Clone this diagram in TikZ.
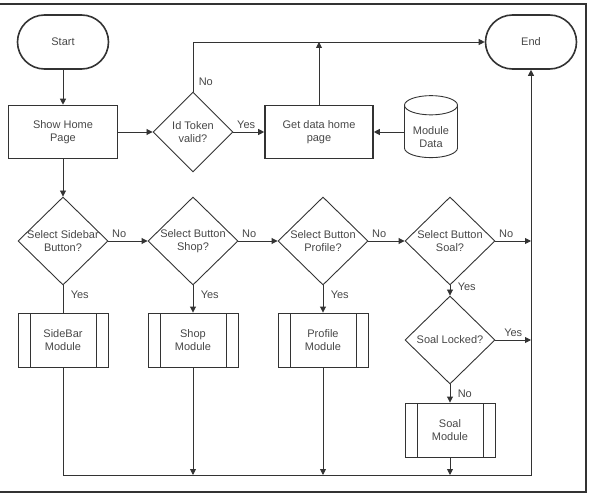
\documentclass[tikz,border=0pt]{standalone}
\usepackage{fontspec}
\setmainfont{Liberation Sans}
\usetikzlibrary{shapes.geometric,arrows.meta}
\definecolor{linegray}{HTML}{333333}
\definecolor{textgray}{HTML}{474747}
\begin{document}
\begin{tikzpicture}[x=1pt,y=-1pt,color=linegray,line width=0.9pt,
    >={Triangle[length=6pt,width=6pt]},
    every node/.style={font=\fontsize{11}{13}\selectfont,text=textgray,align=center},
    terminal/.style={draw,rounded corners=27pt,minimum width=91pt,minimum height=54pt,line width=1.6pt},
    process/.style={draw,minimum width=109pt,minimum height=53pt,line width=1.6pt},
    decision/.style={draw,diamond,minimum width=90pt,minimum height=88pt,inner sep=-3pt},
    module/.style={draw,minimum width=90pt,minimum height=54pt,
      path picture={\draw ([xshift=12pt]path picture bounding box.north west) -- ([xshift=12pt]path picture bounding box.south west)
        ([xshift=-12pt]path picture bounding box.north east) -- ([xshift=-12pt]path picture bounding box.south east);}},
    store/.style={draw,cylinder,shape border rotate=90,aspect=0.45,minimum width=53pt,minimum height=62pt,text height=28pt}]
  \useasboundingbox (0,0) rectangle (590,495);
  % frame
  \draw[line width=2pt] (-5,4) rectangle (586,492);
  % nodes
  \node[terminal] (start) at (63,42) {Start};
  \node[terminal] (end) at (531,42) {End};
  \node[process] (home) at (63,132) {Show Home\\Page};
  \node[decision,minimum width=80pt,minimum height=80pt] (token) at (193,132) {Id Token\\valid?};
  \node[process,minimum width=108pt] (getdata) at (319,132) {Get data home\\page};
  \node[store] (data) at (431,134) {Module\\Data};
  \node[decision] (side) at (63,241) {Select Sidebar\\Button?};
  \node[decision] (shop) at (193,241) {Select Button\\Shop?};
  \node[decision] (profile) at (323,241) {Select Button\\Profile?};
  \node[decision] (soal) at (450,241) {Select Button\\Soal?};
  \node[module] (sidemod) at (63,340) {SideBar\\Module};
  \node[module] (shopmod) at (193,340) {Shop\\Module};
  \node[module] (profmod) at (323,340) {Profile\\Module};
  \node[decision] (locked) at (450,340) {Soal Locked?};
  \node[module] (soalmod) at (450,430) {Soal\\Module};
  \coordinate (corner) at (531,475);
  % top row
  \draw[->] (start) -- (home);
  \draw[->] (home) -- (token);
  \draw[->] (token) -- node[pos=0,above right]{Yes} (getdata);
  \draw[->] (token.north) |- node[pos=0.1,right,xshift=2pt]{No} (end.west);
  \draw[->] (getdata.north) -- (getdata.north |- end.west);
  \draw[->] (data.west |- getdata) -- (getdata);
  % menu choices
  \draw[->] (home) -- (side);
  \draw[->] (side) -- node[pos=0,above right]{No} (shop);
  \draw[->] (shop) -- node[pos=0,above right]{No} (profile);
  \draw[->] (profile) -- node[pos=0,above right]{No} (soal);
  \draw[->] (soal) -- node[pos=0,above right]{No} (soal -| corner);
  \draw (side) -- node[pos=0.35,right,xshift=4pt]{Yes} (sidemod);
  \draw[->] (shop) -- node[pos=0.35,right,xshift=4pt]{Yes} (shopmod);
  \draw[->] (profile) -- node[pos=0.35,right,xshift=4pt]{Yes} (profmod);
  \draw[->] (soal) -- node[pos=0.1,right,xshift=4pt]{Yes} (locked);
  \draw[->] (locked) -- node[midway,above]{Yes} (locked -| corner);
  \draw[->] (locked) -- node[midway,right,xshift=4pt]{No} (soalmod);
  % back to end
  \draw[->] (sidemod) |- (corner) -- (end);
  \draw[->] (shopmod) -- (shopmod |- corner);
  \draw[->] (profmod) -- (profmod |- corner);
  \draw[->] (soalmod) -- (soalmod |- corner);
\end{tikzpicture}
\end{document}
